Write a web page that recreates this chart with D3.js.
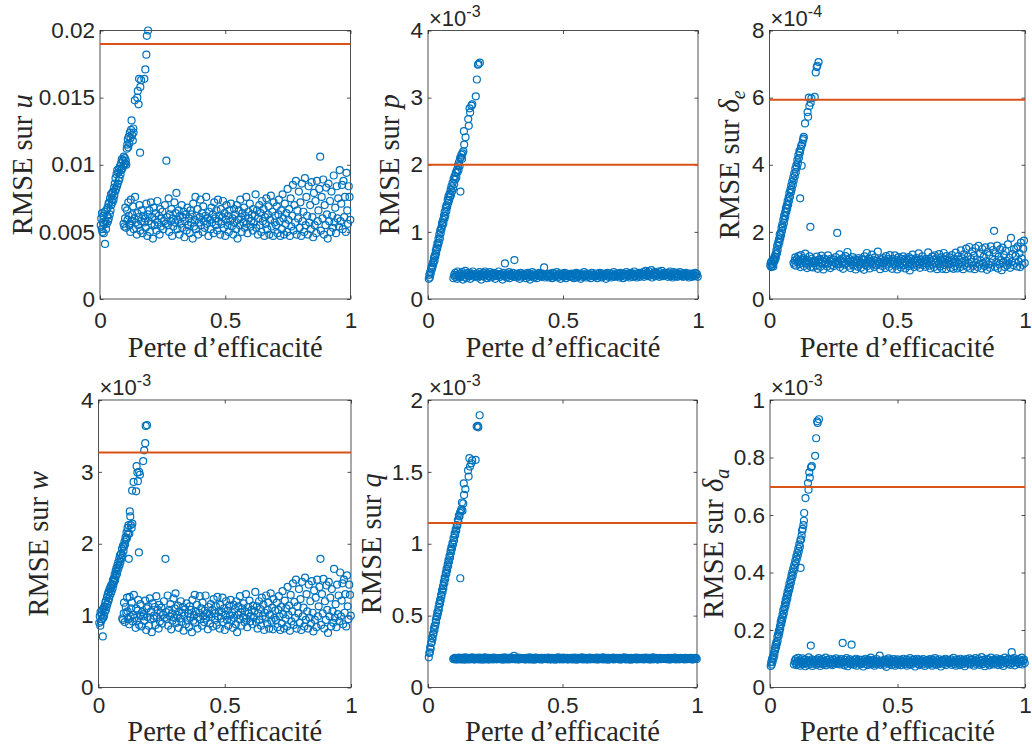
<!DOCTYPE html>
<html><head><meta charset="utf-8">
<script src="https://cdn.jsdelivr.net/npm/d3@7"></script>
<style>body{margin:0;background:#fff}svg{display:block}</style>
</head><body><svg id="c" width="1032" height="751"></svg>
<script>
// ---------- DATA ----------
// x: "Perte d'efficacité" in thousandths (shared by all six panels)
const xRise = [3,5,7,8,10,12,14,15,17,19,20,22,24,25,27,29,30,32,34,35,37,39,40,42,44,45,47,49,50,52,54,56,57,59,61,62,64,66,68,69,71,73,75,76,78,80,82,84,85,87,89,91,93,95,97,99,101,103,105,107,109,111,113,115,117,119,120,122,124,126,128,131,133,134,139,149,151,154,156,160,161,164,177,181,185,187,192];
const xBand = [94,97,100,101,104,108,110,113,115,118,121,123,127,129,132,135,138,140,143,147,149,152,155,157,161,164,166,170,173,177,
180,182,185,189,191,194,197,199,203,206,208,211,214,218,220,223,226,229,231,235,238,240,243,246,249,252,256,259,262,265,
268,271,274,276,279,283,285,288,291,293,297,300,302,305,309,311,314,317,320,322,326,329,331,334,337,340,343,346,349,352,
355,358,361,363,366,370,372,375,378,381,383,386,390,392,395,398,401,403,407,410,412,415,418,421,424,427,430,433,436,439,
442,445,447,451,453,456,460,462,465,468,471,473,477,480,482,485,489,491,494,497,500,503,505,509,511,514,517,520,523,526,
529,532,535,537,540,544,546,549,552,554,558,560,563,566,569,572,575,578,580,584,586,589,592,595,598,601,603,607,610,612,
615,618,621,624,627,630,632,636,638,641,644,647,650,653,656,659,662,664,668,670,673,676,679,682,685,688,691,693,697,700,
703,706,709,712,714,717,720,723,726,729,732,735,738,741,744,747,749,752,755,758,761,764,767,770,773,776,779,782,785,788,
791,794,797,800,803,806,809,812,815,818,821,824,827,830,833,836,839,842,845,848,851,854,857,860,863,866,869,872,875,879,
882,885,888,891,894,897,900,903,906,909,912,915,918,921,924,927,930,933,936,939,942,945,948,951,954,957,960,963,966,969,
972,975,978,981,984,987,990,993,996,999];

// RMSE sur u  (units of 1e-4)
const uRise = [55,60,52,64,50,57,62,49,56,65,41,58,52,66,56,62,68,58,71,60,72,63,75,66,78,70,74,79,72,80,74,83,77,86,80,90,82,93,84,96,86,94,88,97,90,99,93,101,96,104,97,103,99,106,100,105,101,103,100,112,115,119,113,121,116,124,
56,120,126,133,122,118,127,124,148,150,155,145,164,109,158,163,164,171,182,196,200];
const uBand = [56,54,60,68,53,66,59,72,62,55,50,74,58,63,69,52,60,76,57,48,64,55,61,70,51,58,66,49,62,57,
60,53,71,47,63,58,66,50,72,56,61,45,68,55,59,64,51,73,57,62,48,67,54,60,65,52,58,70,56,103,
61,55,75,50,63,58,67,47,60,54,72,57,64,79,52,59,66,48,62,56,70,53,61,65,46,58,63,51,68,55,
60,49,66,57,63,45,71,54,59,76,52,62,67,48,57,61,74,55,64,50,69,58,53,62,76,56,60,47,65,59,
52,68,57,63,49,72,60,55,66,51,74,58,62,48,67,56,61,73,53,64,47,59,70,55,62,50,66,58,71,54,
60,48,67,57,63,52,70,45,59,66,55,74,61,50,64,57,68,53,62,76,56,49,65,60,71,54,58,63,51,67,
57,62,78,53,66,48,60,70,55,64,50,73,58,67,47,61,56,75,52,63,69,48,59,77,54,65,47,72,57,62,
55,69,49,63,74,58,47,66,52,78,60,48,71,56,64,50,82,59,67,47,75,54,62,85,51,70,57,88,48,66,
60,80,53,72,47,86,58,65,50,90,55,76,62,48,84,57,70,52,87,61,46,79,55,73,49,88,58,66,82,106,
51,76,60,89,48,70,55,83,63,45,86,58,73,50,80,62,53,92,57,68,49,84,60,75,54,96,58,71,85,52,
88,61,76,50,94,66,56,84,76,59];

// RMSE sur p  (units of 1e-5)
const pRise = [30,36,32,40,38,46,44,50,48,55,53,61,57,65,63,72,68,77,75,83,80,90,84,96,90,102,98,106,104,113,110,118,113,124,120,130,124,136,131,140,137,148,143,153,147,157,152,163,155,168,160,173,165,179,171,183,178,188,181,192,189,199,192,204,198,210,
160,211,215,209,217,220,250,230,241,268,258,284,278,38,288,290,302,327,349,350,352];
const pBand = [31,36,33,39,35,30,41,34,37,32,38,35,40,29,36,33,42,37,31,35,39,34,36,30,38,35,41,33,37,34,
35,38,32,36,40,34,29,37,35,39,33,41,36,31,38,35,34,40,32,37,36,33,39,35,30,38,34,37,41,36,
33,37,35,29,39,34,53,36,32,38,35,40,31,37,34,36,39,33,58,35,37,32,38,34,36,30,39,35,33,37,
36,34,38,31,35,39,33,37,29,36,34,40,32,35,38,33,36,31,37,35,39,34,36,33,38,35,47,32,37,34,
35,37,32,38,34,36,31,39,35,33,37,34,40,32,36,35,38,30,36,34,37,33,39,35,31,38,34,36,33,37,
34,38,33,36,31,37,35,39,32,36,34,38,35,30,37,33,36,40,34,35,32,38,36,33,37,35,31,39,34,36,
36,33,38,34,31,37,35,39,33,36,32,38,35,34,37,30,36,39,33,35,38,34,32,37,35,40,33,36,34,38,
35,37,32,39,34,36,38,31,35,37,33,40,36,34,38,32,35,39,37,33,36,41,34,38,32,37,35,39,33,36,
38,35,40,33,37,42,36,39,34,41,37,35,43,32,38,36,40,34,39,37,35,41,33,38,36,42,34,37,39,35,
36,39,33,38,35,41,34,37,32,40,36,38,34,39,33,37,35,40,36,34,38,33,37,35,39,36,34,38,32,37,
35,38,33,37,36,34,39,35,37,33];

// RMSE sur delta_e  (units of 1e-6)
const deRise = [100,108,95,112,98,104,115,97,120,112,126,118,134,124,145,136,158,146,168,160,178,170,192,181,198,190,212,203,222,214,236,226,248,238,258,247,270,260,280,270,292,281,303,292,316,305,326,318,338,327,350,340,362,353,374,366,388,378,398,392,414,404,428,420,440,436,
300,448,456,397,462,473,478,483,523,557,543,600,575,215,585,598,602,675,691,695,706];
const deBand = [108,102,115,124,99,119,110,128,113,104,95,131,108,117,122,98,111,135,106,92,116,103,112,127,96,109,120,94,114,107,
112,100,126,90,116,109,119,96,129,105,113,88,121,104,110,117,97,130,107,114,92,120,101,111,118,98,108,125,104,197,
113,103,133,95,116,108,121,90,111,102,128,106,117,140,99,110,119,92,114,104,125,100,112,118,88,108,116,96,122,103,
111,93,119,106,116,87,127,101,109,137,98,114,121,91,106,112,132,103,117,95,124,108,100,114,141,104,111,89,118,109,
98,122,106,115,92,128,111,103,119,96,131,107,114,90,120,104,112,130,99,117,88,109,125,102,114,94,119,107,127,101,
111,91,121,106,116,98,125,85,109,119,103,132,112,95,117,106,122,99,114,136,104,93,118,111,127,101,108,115,96,120,
106,114,139,99,119,91,111,126,102,117,95,130,108,121,89,112,104,134,97,115,124,90,109,137,101,118,89,128,106,114,
103,124,93,115,131,108,90,120,98,138,111,91,127,104,117,95,145,109,121,89,133,101,114,150,96,126,106,155,91,119,
111,142,99,129,89,152,108,118,95,158,103,135,114,91,149,106,126,98,154,112,87,140,103,131,93,157,108,120,146,203,
96,136,111,159,91,126,103,148,116,86,153,108,131,95,143,114,100,163,106,123,93,182,111,134,101,149,108,128,151,97,
157,112,136,95,168,121,102,150,174,107];

// RMSE sur w  (units of 1e-5)
const wRise = [90,99,86,105,92,101,95,108,71,97,110,100,113,105,118,108,121,112,126,116,130,120,133,124,137,128,139,131,142,134,144,138,149,143,152,147,157,150,162,155,166,158,170,163,174,167,179,171,184,175,186,180,193,184,197,190,196,203,199,209,206,216,208,222,214,226,
179,214,245,238,226,222,274,228,286,273,308,299,287,188,300,296,315,330,340,364,365];
const wBand = [96,94,103,118,91,112,104,125,106,95,88,126,99,110,118,92,101,129,97,83,110,93,107,122,87,100,116,85,105,99,
102,93,121,80,110,98,113,86,124,95,106,77,117,96,100,112,87,127,98,108,82,115,92,104,111,89,101,120,97,179,
105,95,128,86,108,99,116,81,103,93,124,97,110,131,90,101,114,83,106,96,120,91,104,112,79,100,109,88,117,94,
103,84,113,98,108,77,122,93,101,129,90,106,115,82,98,104,127,95,110,86,118,99,91,107,128,96,103,81,112,102,
89,116,98,108,85,123,103,94,113,87,126,99,106,82,115,96,105,125,91,110,80,101,120,94,107,86,114,100,122,93,
104,83,115,97,109,88,120,77,101,113,95,127,105,86,110,98,117,91,106,130,96,84,112,103,121,92,99,108,88,114,
98,106,133,91,113,82,103,120,94,109,86,125,99,115,80,104,96,128,89,108,118,82,101,131,93,111,81,123,97,107,
94,118,84,108,127,99,80,112,89,134,102,82,121,96,110,85,140,101,114,79,129,92,106,145,87,119,97,150,82,113,
103,137,90,123,80,147,99,111,85,153,94,130,106,82,143,97,120,89,148,104,78,135,94,125,84,150,99,113,140,179,
87,130,103,151,82,120,94,142,108,76,147,99,125,85,137,106,90,165,97,116,84,143,102,128,92,160,99,121,145,88,
150,104,130,85,156,113,95,143,129,100];

// RMSE sur q  (units of 1e-6)
const qRise = [210,240,245,280,270,310,315,345,340,375,370,410,400,430,430,470,455,495,490,525,515,555,540,585,580,610,605,645,635,675,665,705,690,735,725,765,755,795,790,825,815,855,845,885,875,915,905,950,935,975,965,1005,995,1040,1025,1070,1060,1100,1090,1130,1125,1165,1155,1195,1190,1215,
760,1225,1240,1287,1230,1280,1420,1340,1380,1510,1467,1595,1537,205,1560,1580,1583,1815,1820,1810,1894];
const qBand = [198,203,196,207,201,194,205,199,208,197,202,195,206,200,204,193,209,198,203,196,207,201,195,205,199,210,197,202,194,206,
200,204,197,208,195,202,206,199,193,205,201,209,196,203,198,207,194,204,200,197,206,202,195,208,199,203,196,205,201,198,
204,197,206,200,193,203,210,198,205,196,202,207,195,201,208,199,204,197,220,203,196,205,199,208,194,202,206,198,204,200,
197,205,201,194,207,199,203,196,209,200,195,204,198,206,193,202,208,197,203,199,205,196,201,207,194,204,199,206,198,202,
203,196,208,199,205,194,201,207,197,204,200,193,206,198,203,209,196,202,199,205,195,208,200,197,204,201,206,194,203,199,
201,206,195,203,198,208,196,204,200,193,207,199,202,205,197,209,200,195,204,198,206,202,194,203,199,208,196,205,201,197,
205,198,203,196,208,200,194,206,199,202,197,204,209,195,201,206,198,203,193,207,200,196,205,202,198,208,195,203,200,206,
199,204,196,207,201,194,205,198,203,209,197,202,195,206,200,204,198,193,207,201,196,205,199,203,208,195,202,206,197,204,
202,197,206,200,195,204,208,199,203,196,207,201,194,205,199,209,196,203,200,206,198,194,204,201,207,197,203,199,205,200,
198,205,201,196,207,203,194,200,206,199,204,197,208,202,195,205,199,203,196,207,200,204,198,202,195,206,201,197,205,199,
203,197,206,200,194,205,199,202,207,198];

// RMSE sur delta_a  (units of 1e-6)
const daRise = [75,88,80,100,90,108,102,120,113,136,128,148,140,158,152,176,163,186,180,198,192,213,204,228,220,238,232,253,244,268,257,280,272,293,284,306,297,320,310,333,324,346,338,360,350,373,364,388,377,400,390,413,404,426,417,440,432,455,447,468,460,483,474,498,489,512,
416,515,528,545,552,565,580,607,659,711,688,748,730,146,766,770,806,867,926,920,933];
const daBand = [80,92,85,99,78,88,103,83,94,76,90,86,101,81,95,88,74,97,84,91,79,105,87,93,82,98,75,89,95,84,
91,79,97,86,102,83,75,94,88,99,81,92,85,104,77,90,96,83,87,100,80,93,86,78,97,89,84,101,92,82,
86,95,80,91,99,84,155,89,77,96,83,102,88,74,93,85,98,81,149,90,87,79,95,84,100,76,92,88,97,83,
89,81,96,86,73,94,88,100,82,91,78,97,85,92,104,80,89,95,84,76,93,87,99,81,90,86,111,79,94,88,
84,93,79,97,88,72,91,85,101,82,95,87,78,94,89,99,83,76,92,86,98,80,90,84,96,77,93,88,100,82,
91,83,97,76,88,94,81,102,86,79,95,89,84,98,73,92,87,100,82,90,78,96,85,93,80,99,88,75,94,86,
87,95,80,92,99,84,89,76,97,83,91,102,86,79,94,88,81,98,85,73,93,89,96,82,90,100,78,87,95,84,
92,85,98,79,90,87,103,82,94,76,89,97,84,91,78,100,86,93,81,96,88,74,92,99,83,90,86,101,80,95,
84,97,89,76,94,102,82,91,87,99,79,93,85,106,81,96,88,74,92,100,86,83,98,77,90,104,85,93,80,97,
89,83,101,94,78,92,86,99,81,96,88,75,93,104,85,90,97,82,100,87,79,95,123,84,91,102,77,96,88,93,
86,99,82,94,90,104,80,92,97,85];

// Reference (threshold) levels, in displayed axis units
const uRef = 0.019, pRef = 2.0, deRef = 5.94, wRef = 3.27, qRef = 1.144, daRef = 0.697;

// Tick labels
const xTicks = [0, 0.5, 1];
const uTicks = [0, 0.005, 0.01, 0.015, 0.02];
const pTicks = [0, 1, 2, 3, 4];
const deTicks = [0, 2, 4, 6, 8];
const wTicks = [0, 1, 2, 3, 4];
const qTicks = [0, 0.5, 1, 1.5, 2];
const daTicks = [0, 0.2, 0.4, 0.6, 0.8, 1];
const xLabel = "Perte d\u2019efficacit\u00e9";

// ---------- DRAW ----------
const svg = d3.select('#c');
svg.append('rect').attr('width', 1032).attr('height', 751).attr('fill', '#fff');

const AX = '#262626', BLUE = '#0072BD', RED = '#D95319';
const TICKFONT = '"Liberation Sans", Arial, sans-serif';
const SERIF = '"Liberation Serif", "Times New Roman", serif';

const panels = [
  {rise:uRise, band:uBand, unit:1e-4, ticks:uTicks, ref:uRef, exp:null, v:'u', sub:null,
   x0:100, x1:350.5, y0:30.5, y1:299, lx:31.5, row:0},
  {rise:pRise, band:pBand, unit:1e-2, ticks:pTicks, ref:pRef, exp:'-3', v:'p', sub:null,
   x0:428, x1:698, y0:30.5, y1:299, lx:399, row:0},
  {rise:deRise, band:deBand, unit:1e-2, ticks:deTicks, ref:deRef, exp:'-4', v:'\u03b4', sub:'e',
   x0:769.5, x1:1025, y0:30.5, y1:299, lx:739, row:0},
  {rise:wRise, band:wBand, unit:1e-2, ticks:wTicks, ref:wRef, exp:'-3', v:'w', sub:null,
   x0:98.5, x1:351, y0:400, y1:687.5, lx:48, row:1},
  {rise:qRise, band:qBand, unit:1e-3, ticks:qTicks, ref:qRef, exp:'-3', v:'q', sub:null,
   x0:428, x1:697, y0:400, y1:687.5, lx:381, row:1},
  {rise:daRise, band:daBand, unit:1e-3, ticks:daTicks, ref:daRef, exp:'-3', v:'\u03b4', sub:'a',
   x0:770, x1:1025, y0:400, y1:687.5, lx:723, row:1}
];

const TL = 3.5;
let warn = [];
panels.forEach((p, k) => {
  if (p.rise.length !== xRise.length) warn.push(`p${k} rise ${p.rise.length}/${xRise.length}`);
  if (p.band.length !== xBand.length) warn.push(`p${k} band ${p.band.length}/${xBand.length}`);
  const x = d3.scaleLinear().domain([0, 1]).range([p.x0, p.x1]);
  const y = d3.scaleLinear().domain([0, p.ticks[p.ticks.length - 1]]).range([p.y1, p.y0]);
  const g = svg.append('g');
  const fmt = d => String(d);

  const styleAxis = sel => {
    sel.select('.domain').remove();
    sel.selectAll('line').attr('stroke', AX).attr('stroke-width', 0.8);
    sel.selectAll('text').attr('fill', AX).style('font-family', TICKFONT).style('font-size', '22.5px');
  };
  const padX = p.row === 0 ? 13.5 : 9.5;
  g.append('g').attr('transform', `translate(0,${p.y1})`)
    .call(d3.axisBottom(x).tickValues(xTicks).tickSize(-TL).tickPadding(padX).tickFormat(fmt)).call(styleAxis);
  g.append('g').attr('transform', `translate(0,${p.y0})`)
    .call(d3.axisTop(x).tickValues(xTicks).tickSize(-TL).tickFormat('')).call(styleAxis);
  g.append('g').attr('transform', `translate(${p.x0},0)`)
    .call(d3.axisLeft(y).tickValues(p.ticks).tickSize(-TL).tickPadding(5).tickFormat(fmt)).call(styleAxis);
  g.append('g').attr('transform', `translate(${p.x1},0)`)
    .call(d3.axisRight(y).tickValues(p.ticks).tickSize(-TL).tickFormat('')).call(styleAxis);
  g.append('rect').attr('x', p.x0).attr('y', p.y0).attr('width', p.x1 - p.x0).attr('height', p.y1 - p.y0)
    .attr('fill', 'none').attr('stroke', AX).attr('stroke-width', 0.8);

  const pts = xRise.map((xv, i) => [xv, p.rise[i]]).concat(xBand.map((xv, i) => [xv, p.band[i]]));
  g.append('g').selectAll('circle').data(pts).join('circle')
    .attr('cx', d => x(d[0] / 1000)).attr('cy', d => y(d[1] * p.unit)).attr('r', 3.5)
    .attr('fill', 'none').attr('stroke', BLUE).attr('stroke-width', 1.2);

  g.append('line').attr('x1', x(0)).attr('x2', x(1)).attr('y1', y(p.ref)).attr('y2', y(p.ref))
    .attr('stroke', RED).attr('stroke-width', 2);

  if (p.exp) {
    const t = g.append('text').attr('x', p.x0 + 1).attr('y', p.y0 - 5).attr('fill', AX)
      .style('font-family', TICKFONT).style('font-size', '22px');
    t.append('tspan').text('\u00d710');
    t.append('tspan').attr('dy', -9).style('font-size', '16px').text(p.exp);
  }

  const bx = p.row === 0 ? 356.5 : 741;
  g.append('text').attr('x', (p.x0 + p.x1) / 2).attr('y', bx).attr('text-anchor', 'middle')
    .attr('fill', AX).style('font-family', SERIF).style('font-size', '28.5px').text(xLabel);

  const cy = (p.y0 + p.y1) / 2;
  const yl = g.append('text').attr('transform', `translate(${p.lx},${cy}) rotate(-90)`)
    .attr('text-anchor', 'middle').attr('fill', AX).style('font-family', SERIF).style('font-size', '28.5px');
  yl.append('tspan').text('RMSE sur ');
  yl.append('tspan').style('font-style', 'italic').text(p.v);
  if (p.sub) yl.append('tspan').attr('dy', 6).style('font-style', 'italic').style('font-size', '20px').text(p.sub);
});
if (warn.length) svg.append('text').attr('x', 5).attr('y', 745).attr('fill', 'red').style('font-size', '12px').text(warn.join(' | '));
</script></body></html>
